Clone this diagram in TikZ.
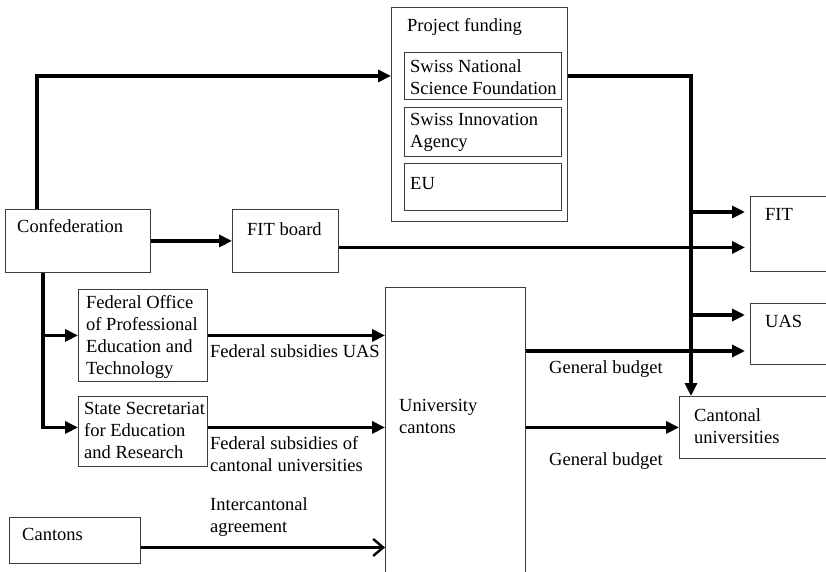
\documentclass[tikz,border=0pt]{standalone}
\usepackage{fontspec}
\setmainfont{Liberation Serif}
\usepackage{tikz}
\usetikzlibrary{arrows.meta}
\definecolor{boxgray}{RGB}{60, 60, 60}

\begin{document}
\begin{tikzpicture}[x=1pt, y=-1pt,
            font={\fontsize{18.5}{22}\selectfont},
            box/.style = {draw=boxgray, line width=0.9pt, anchor=north west, inner sep=0pt},
            txt/.style = {anchor=north west, align=left, inner sep=0pt},
            flow/.style = {line width=3.2pt, -{Triangle[length=13pt,width=12pt]}},
            barbflow/.style = {line width=3.2pt, -{Straight Barb[length=10pt,width=17pt,line width=2.4pt]}}]
        \useasboundingbox (0,0) rectangle (826,572);

        % sources
        \node[box, minimum width=145pt, minimum height=63pt, label={[txt,xshift=12pt,yshift=-10pt]north west:Confederation}] (conf) at (5,209) {};
        \node[box, minimum width=106pt, minimum height=63pt, label={[txt,xshift=15pt,yshift=-13pt]north west:FIT board}] (fitb) at (232,209) {};
        \node[box, minimum width=129pt, minimum height=92pt, label={[txt,xshift=8pt,yshift=-6pt]north west:{Federal Office\\of Professional\\Education and\\Technology}}] (fopet) at (78,289) {};
        \node[box, minimum width=129pt, minimum height=70pt, label={[txt,xshift=6pt,yshift=-6pt]north west:{State Secretariat\\for Education\\and Research}}] (sser) at (78,396) {};
        \node[box, minimum width=131pt, minimum height=46pt, label={[txt,xshift=13pt,yshift=-11pt]north west:Cantons}] (cant) at (9,517) {};
        \node[box, minimum width=140pt, minimum height=320pt, label={[txt,xshift=14pt,yshift=-112pt]north west:{University\\cantons}}] (uc) at (385,287) {};

        % project funding
        \node[box, minimum width=176pt, minimum height=214pt, label={[txt,xshift=16pt,yshift=-11pt]north west:Project funding}] (pf) at (391,7) {};
        \node[box, minimum width=157pt, minimum height=47pt, label={[txt,xshift=6pt,yshift=-7pt]north west:{Swiss National\\Science Foundation}}] (snsf) at (404,52) {};
        \node[box, minimum width=157pt, minimum height=49pt, label={[txt,xshift=6pt,yshift=-6pt]north west:{Swiss Innovation\\Agency}}] (sia) at (404,107) {};
        \node[box, minimum width=157pt, minimum height=47pt, label={[txt,xshift=6pt,yshift=-14pt]north west:EU}] (eu) at (404,163) {};

        % receivers
        \node[box, minimum width=100pt, minimum height=75pt, label={[txt,xshift=15pt,yshift=-12pt]north west:FIT}] (fit) at (750,196) {};
        \node[box, minimum width=100pt, minimum height=61pt, label={[txt,xshift=15pt,yshift=-12pt]north west:UAS}] (uas) at (750,303) {};
        \node[box, minimum width=171pt, minimum height=62pt, label={[txt,xshift=15pt,yshift=-12pt]north west:{Cantonal\\universities}}] (cu) at (679,396) {};

        \coordinate (busfit) at (691,212);
        \coordinate (busuas) at (691,315);

        \draw[flow] ([xshift=32pt]conf.north west) |- (pf.west |- snsf);
        \draw[flow] (pf.east |- snsf) -| ([xshift=12pt]cu.north west);
        \draw[flow, shorten >=5pt] (busfit) -- (busfit -| fit.west);
        \draw[flow, shorten >=5pt] (busuas) -- (busuas -| uas.west);
        \draw[flow] (conf.east) -- (conf.east -| fitb.west);
        \draw[flow, shorten >=5pt] ([yshift=-6.5pt]fitb.east) -- ([yshift=-6.5pt]fitb.east -| fit.west);
        \draw[flow] ([xshift=38pt]conf.south west) |- (fopet.west);
        \draw[flow] ([xshift=38pt]conf.south west) |- (sser.west |- cu.west);
        \draw[flow] (fopet.east) -- (fopet.east -| uc.west);
        \draw[flow] (sser.east |- cu.west) -- (uc.west |- cu.west);
        \draw[barbflow] ([yshift=-7pt]cant.east) -- ([yshift=-7pt]cant.east -| uc.west);
        \draw[flow, shorten >=5pt] (uc.east |- 0,351) -- (uas.west |- 0,351);
        \draw[flow] (uc.east |- cu.west) -- (cu.west);

        % flow labels
        \node[txt] (lsubuas) at (210,344) {Federal subsidies UAS};
        \node[txt] (lsubcu) at (210,436) {Federal subsidies of\\cantonal universities};
        \node[txt] (linter) at (210,497) {Intercantonal\\agreement};
        \node[txt] (lbudget1) at (549,360) {General budget};
        \node[txt] (lbudget2) at (549,452) {General budget};
\end{tikzpicture}
\end{document}
